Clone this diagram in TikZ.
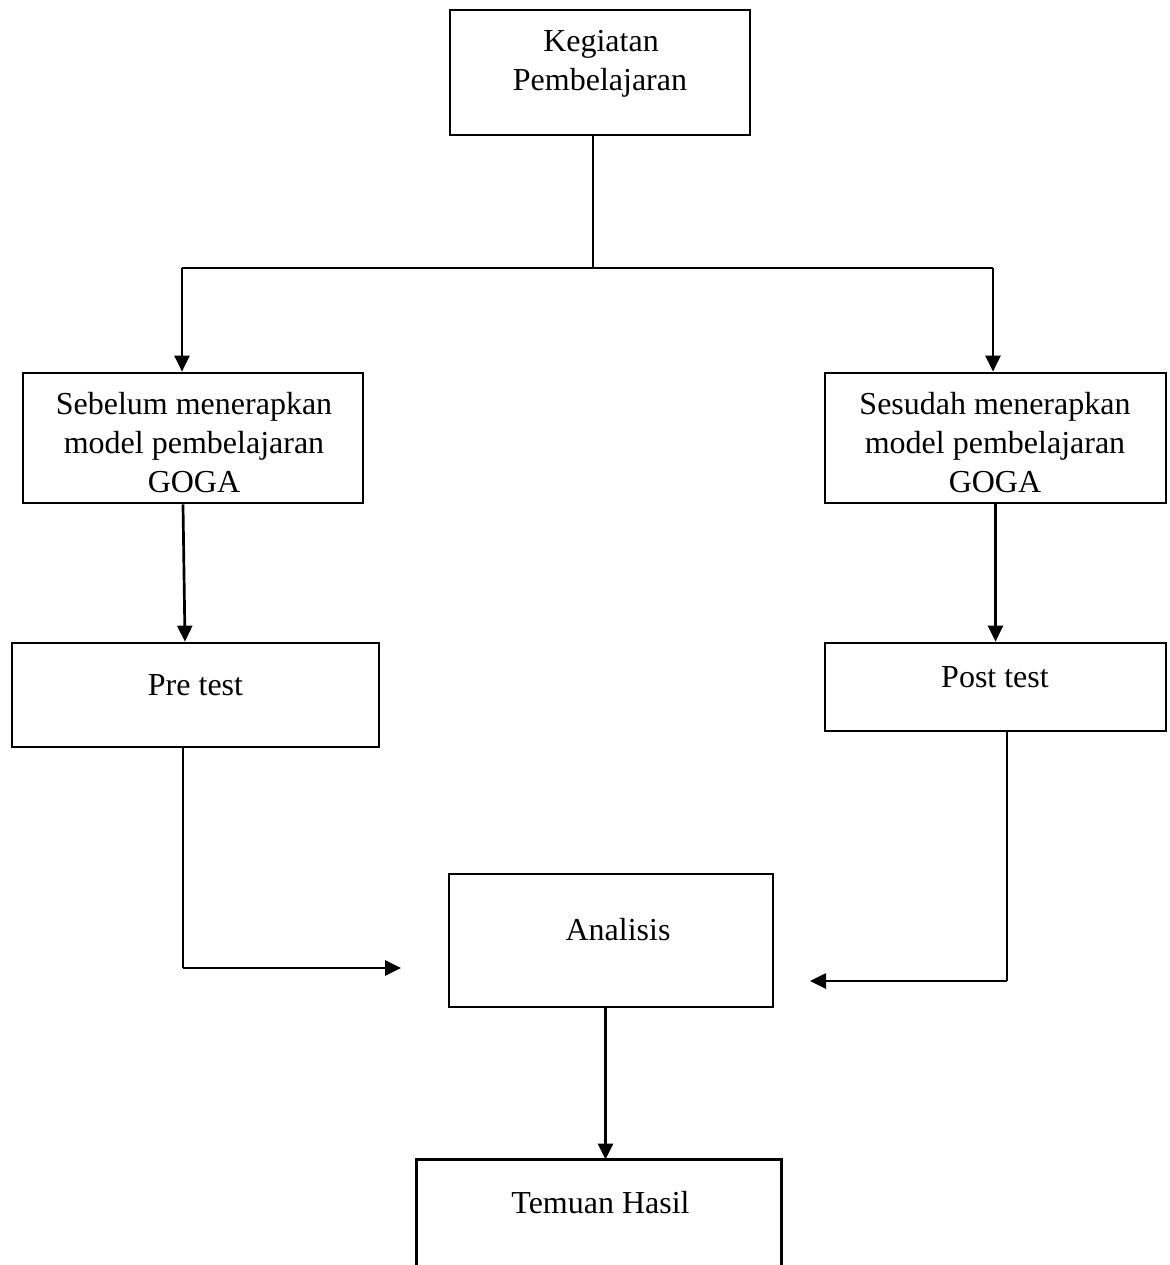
\documentclass[tikz,border=0pt]{standalone}
\usepackage{fontspec}
\setmainfont{Liberation Serif}
\usetikzlibrary{arrows.meta}
\begin{document}
\begin{tikzpicture}[x=0.5pt,y=-0.5pt,
  box/.style={draw,line width=1.35pt,inner sep=0pt},
  openbox/.style={inner sep=0pt},
  txt/.style={anchor=base,inner sep=0pt,font=\fontsize{16pt}{19.5pt}\selectfont},
  thinline/.style={line width=0.65pt},
  arr/.style={line width=1.35pt,-{Triangle[width=7.5pt,length=8pt]}}
]
\useasboundingbox (0,0) rectangle (1170,1265);

% boxes
\node[box,minimum width=150pt,minimum height=62.5pt] (keg) at (600,72.5) {};
\node[box,minimum width=170pt,minimum height=65pt] (seb) at (193,438) {};
\node[box,minimum width=170.5pt,minimum height=65pt] (ses) at (995.5,438) {};
\node[box,minimum width=183.5pt,minimum height=52pt] (pre) at (195.5,695) {};
\node[box,minimum width=170.5pt,minimum height=44pt] (post) at (995.5,687) {};
\node[box,minimum width=162pt,minimum height=66.5pt] (ana) at (611,940.5) {};
\node[openbox,minimum width=182pt,minimum height=52.5pt] (tem) at (599,1212.5) {};
\draw[line width=1.35pt] (tem.south west) -- (tem.north west) -- (tem.north east) -- (tem.south east);

% texts
\node[txt] (tkeg1) at (601,51) {Kegiatan};
\node[txt] (tkeg2) at (600,90) {Pembelajaran};
\node[txt] (tseb1) at (194,414) {Sebelum menerapkan};
\node[txt] (tseb2) at (194,453) {model pembelajaran};
\node[txt] (tseb3) at (194,492) {GOGA};
\node[txt] (tses1) at (995,414) {Sesudah menerapkan};
\node[txt] (tses2) at (995,453) {model pembelajaran};
\node[txt] (tses3) at (995,492) {GOGA};
\node[txt] (tpre) at (195.5,695) {Pre test};
\node[txt] (tpost) at (995,687) {Post test};
\node[txt] (tana) at (618,940) {Analisis};
\node[txt] (ttem) at (600.5,1213) {Temuan Hasil};

% connectors
\coordinate (j) at (593,268);
\coordinate (hl) at (182,268);
\coordinate (hr) at (993,268);
\draw[thinline] (keg.south -| j) -- (j);
\draw[thinline] (hl) -- (hr);
\draw[arr] (hl) -- (hl |- seb.north);
\draw[arr] (hr) -- (hr |- ses.north);

\draw[arr] ([xshift=-5pt]seb.south) -- ([xshift=-5.25pt]pre.north);
\draw[arr] (ses.south) -- (post.north);

\coordinate (c1) at (183,968);
\coordinate (e1) at (401,968);
\draw[thinline] ([xshift=-6.25pt]pre.south) -- (c1);
\draw[arr] (c1) -- (e1);

\coordinate (c2) at (1007,981);
\coordinate (e2) at (810,981);
\draw[thinline] ([xshift=5.75pt]post.south) -- (c2);
\draw[arr] (c2) -- (e2);

\draw[arr] ([xshift=-2.75pt]ana.south) -- ([xshift=3.25pt]tem.north);
\end{tikzpicture}
\end{document}
